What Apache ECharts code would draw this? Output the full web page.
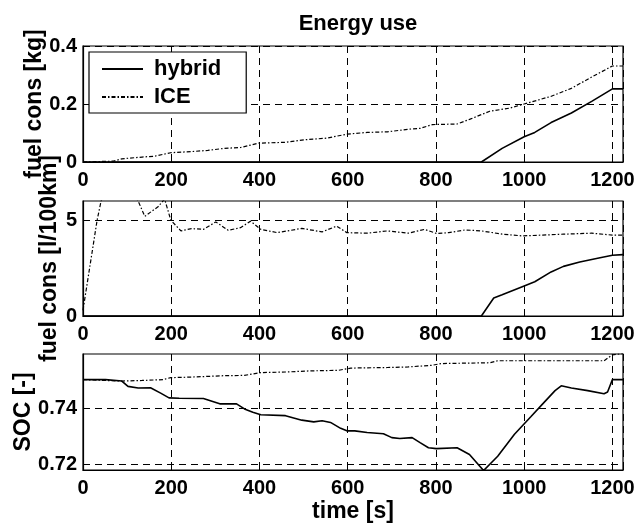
<!DOCTYPE html>
<html>
<head>
<meta charset="utf-8">
<script src="https://cdn.jsdelivr.net/npm/echarts@6/dist/echarts.min.js"></script>
<style>
  html, body { margin: 0; padding: 0; background: #fff; }
  #main { width: 640px; height: 526px; }
</style>
</head>
<body>
<div id="main"></div>
<script>
// fuel consumption [kg], cumulative
var tKgIce = [0, 69, 88, 134, 162, 199, 246, 283, 320, 357, 398, 459, 505, 551, 598, 644, 690, 737, 764, 792, 848, 876, 922, 968, 1000, 1060, 1107, 1153, 1200, 1224];
var kgIce = [0, 0.003, 0.011, 0.017, 0.02, 0.032, 0.036, 0.040, 0.047, 0.05, 0.065, 0.068, 0.077, 0.082, 0.096, 0.102, 0.104, 0.113, 0.116, 0.129, 0.131, 0.147, 0.175, 0.186, 0.2, 0.226, 0.254, 0.293, 0.331, 0.331];
var tKgHyb = [0, 903, 950, 1000, 1024, 1061, 1107, 1153, 1200, 1224];
var kgHyb = [0, 0, 0.047, 0.087, 0.102, 0.136, 0.169, 0.209, 0.252, 0.252];

// fuel consumption [l/100km]
var tLIce = [0, 32, 41, 80, 125, 140, 170, 185, 199, 222, 246, 273, 301, 329, 357, 380, 403, 440, 496, 542, 575, 598, 644, 690, 737, 774, 802, 829, 866, 903, 950, 996, 1042, 1089, 1153, 1200, 1224];
var lIce = [0.3, 5.0, 6.0, 7.5, 6.0, 5.2, 5.7, 6.1, 5.0, 4.44, 4.56, 4.52, 4.91, 4.47, 4.61, 4.95, 4.52, 4.35, 4.57, 4.39, 4.69, 4.35, 4.32, 4.44, 4.32, 4.52, 4.30, 4.35, 4.49, 4.44, 4.27, 4.18, 4.22, 4.27, 4.32, 4.22, 4.22];
var tLHyb = [0, 903, 931, 950, 1000, 1024, 1061, 1089, 1126, 1172, 1200, 1224];
var lHyb = [0, 0, 0.94, 1.11, 1.57, 1.79, 2.30, 2.59, 2.82, 3.04, 3.17, 3.2];

// state of charge [-]
var tSocHyb = [0, 51, 88, 102, 125, 153, 176, 195, 218, 273, 287, 310, 348, 366, 385, 403, 459, 496, 523, 542, 561, 584, 598, 616, 644, 681, 700, 718, 746, 764, 783, 801, 848, 876, 908, 940, 978, 1015, 1042, 1070, 1084, 1107, 1144, 1181, 1189, 1200, 1224];
var socHyb = [0.7502, 0.7502, 0.7497, 0.7478, 0.7472, 0.7473, 0.7454, 0.7437, 0.7436, 0.7435, 0.7428, 0.7416, 0.7416, 0.7398, 0.7386, 0.7377, 0.7374, 0.7358, 0.7352, 0.7356, 0.7350, 0.7329, 0.7320, 0.7320, 0.7314, 0.7310, 0.7296, 0.7293, 0.7296, 0.7278, 0.7260, 0.7257, 0.7260, 0.7236, 0.7179, 0.7230, 0.7308, 0.7370, 0.7416, 0.7463, 0.7480, 0.7472, 0.7463, 0.7452, 0.7458, 0.7502, 0.7502];
var tSocIce = [0, 51, 88, 134, 181, 199, 246, 320, 366, 403, 459, 514, 579, 607, 690, 737, 792, 811, 922, 940, 1015, 1181, 1200, 1224];
var socIce = [0.7502, 0.7499, 0.7497, 0.7499, 0.7502, 0.7509, 0.7511, 0.7516, 0.7517, 0.7527, 0.7529, 0.7533, 0.7535, 0.7543, 0.7545, 0.7547, 0.7553, 0.7559, 0.7562, 0.7569, 0.7569, 0.7569, 0.7590, 0.7595];

var timeTicks = [0, 200, 400, 600, 800, 1000, 1200];
var kgTicks = [0, 0.2, 0.4];
var lTicks = [0, 5];
var socTicks = [0.72, 0.74];

function pairs(t, v) {
    var out = [];
    for (var i = 0; i < t.length; i++) out.push([t[i], v[i]]);
    return out;
}

var FONT = "'Liberation Sans', Arial, sans-serif";
var tickFont = {color: '#000', fontFamily: FONT, fontWeight: 'bold', fontSize: 20};
var nameFont = {color: '#000', fontFamily: FONT, fontWeight: 'bold', fontSize: 23};
var dash = {color: '#000', width: 1, type: [7, 5]};

function xAx(idx, withName) {
    var ax = {
        type: 'value', gridIndex: idx, min: 0, max: 1224, interval: 200,
        axisLine: {lineStyle: {color: '#000', width: 1.2}},
        axisTick: {inside: true, length: 5, lineStyle: {color: '#000'}},
        axisLabel: Object.assign({margin: 8, formatter: function (v) {
            return timeTicks.indexOf(v) >= 0 ? String(v) : '';
        }}, tickFont),
        splitLine: {show: true, lineStyle: dash}
    };
    if (withName) {
        ax.name = 'time [s]';
        ax.nameLocation = 'middle';
        ax.nameGap = 30;
        ax.nameMoveOverlap = false;
        ax.nameTextStyle = nameFont;
    }
    return ax;
}

function yAx(idx, name, gap, min, max, ticks) {
    return {
        type: 'value', gridIndex: idx, min: min, max: max,
        name: name, nameLocation: 'middle', nameRotate: 90, nameGap: gap,
        nameMoveOverlap: false,
        nameTextStyle: nameFont,
        axisLine: {show: true, lineStyle: {color: '#000', width: 1.2}},
        axisTick: {inside: true, length: 5, customValues: ticks, lineStyle: {color: '#000'}},
        axisLabel: Object.assign({margin: 6, customValues: ticks, formatter: function (v) {
            return String(+v.toFixed(3));
        }}, tickFont),
        splitLine: {show: true, lineStyle: dash}
    };
}

function line(name, xi, data, solid) {
    return {
        name: name, type: 'line', xAxisIndex: xi, yAxisIndex: xi,
        data: data, symbol: 'none', smooth: false, animation: false,
        lineStyle: solid ? {color: '#000', width: 1.6} : {color: '#000', width: 1.2, type: [4, 2, 1.5, 2]},
        itemStyle: {color: '#000'}
    };
}

var option = {
    animation: false,
    backgroundColor: '#fff',
    title: {
        text: 'Energy use', left: 353, top: 8, textAlign: 'center',
        textStyle: {color: '#000', fontFamily: FONT, fontWeight: 'bold', fontSize: 22}
    },
    legend: {
        orient: 'vertical', left: 89, top: 52,
        padding: [6, 25, 5, 12], itemGap: 6, itemWidth: 41, itemHeight: 18,
        borderColor: '#000', borderWidth: 1.2, backgroundColor: '#fff',
        itemStyle: {opacity: 0},
        data: ['hybrid', 'ICE'],
        textStyle: {color: '#000', fontFamily: FONT, fontWeight: 'bold', fontSize: 22, padding: [0, 0, 0, 6]}
    },
    grid: [
        {left: 83, right: 17, top: 46, height: 116, show: true, borderColor: '#000', borderWidth: 1.2},
        {left: 83, right: 17, top: 201, height: 115, show: true, borderColor: '#000', borderWidth: 1.2},
        {left: 83, right: 17, top: 354, height: 116, show: true, borderColor: '#000', borderWidth: 1.2}
    ],
    xAxis: [xAx(0, false), xAx(1, false), xAx(2, true)],
    yAxis: [
        yAx(0, 'fuel cons [kg]', 37, 0, 0.4, kgTicks),
        yAx(1, 'fuel cons [l/100km]', 22, 0, 6, lTicks),
        yAx(2, 'SOC [-]', 48, 0.7181, 0.7593, socTicks)
    ],
    series: [
        line('hybrid', 0, pairs(tKgHyb, kgHyb), true),
        line('ICE', 0, pairs(tKgIce, kgIce), false),
        line('hybrid', 1, pairs(tLHyb, lHyb), true),
        line('ICE', 1, pairs(tLIce, lIce), false),
        line('hybrid', 2, pairs(tSocHyb, socHyb), true),
        line('ICE', 2, pairs(tSocIce, socIce), false)
    ]
};

var myChart = echarts.init(document.getElementById('main'));
myChart.setOption(option);
</script>
</body>
</html>
